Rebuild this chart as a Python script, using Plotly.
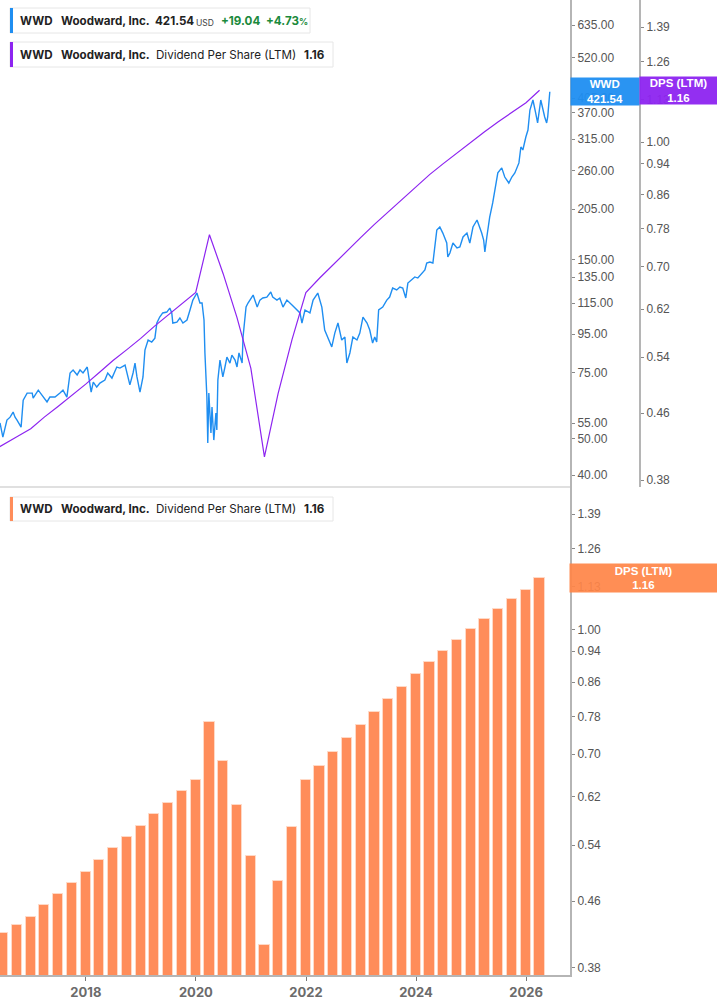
import math
import plotly.graph_objects as go

# ---------------- data ----------------
price_dates = [
    "2016-06-10", "2016-06-29", "2016-07-26", "2016-08-16", "2016-09-05", "2016-09-18", "2016-10-01", "2016-10-28",
    "2016-11-11", "2016-12-07", "2017-01-10", "2017-01-16", "2017-02-19", "2017-03-15", "2017-04-18", "2017-05-07",
    "2017-06-10", "2017-07-13", "2017-08-02", "2017-08-28", "2017-09-18", "2017-10-08", "2017-11-04", "2017-11-23",
    "2017-12-13", "2018-01-10", "2018-01-22", "2018-02-05", "2018-02-19", "2018-03-14", "2018-04-04", "2018-05-07",
    "2018-05-26", "2018-06-23", "2018-07-25", "2018-08-15", "2018-09-18", "2018-10-07", "2018-10-20", "2018-11-10",
    "2018-11-23", "2018-12-06", "2018-12-26", "2019-01-15", "2019-01-28", "2019-02-18", "2019-03-14", "2019-04-04",
    "2019-04-17", "2019-05-06", "2019-05-26", "2019-06-22", "2019-07-12", "2019-07-25", "2019-08-01", "2019-08-28",
    "2019-09-17", "2019-10-07", "2019-11-03", "2019-11-23", "2019-12-12", "2020-01-08", "2020-01-28", "2020-02-11",
    "2020-02-24", "2020-03-01", "2020-03-14", "2020-03-20", "2020-03-27", "2020-04-10", "2020-04-17", "2020-04-29",
    "2020-05-13", "2020-05-19", "2020-05-26", "2020-06-09", "2020-06-28", "2020-07-12", "2020-07-25", "2020-08-14",
    "2020-08-27", "2020-09-17", "2020-09-30", "2020-10-13", "2020-11-03", "2020-11-09", "2020-11-29", "2020-12-12",
    "2021-01-15", "2021-02-11", "2021-03-01", "2021-03-20", "2021-04-16", "2021-05-12", "2021-05-25", "2021-06-22",
    "2021-07-11", "2021-08-01", "2021-08-27", "2021-09-30", "2021-11-02", "2021-11-22", "2021-12-05", "2021-12-25",
    "2022-01-27", "2022-02-17", "2022-03-20", "2022-04-16", "2022-05-05", "2022-05-25", "2022-06-21", "2022-07-11",
    "2022-08-01", "2022-08-26", "2022-09-16", "2022-09-29", "2022-10-19", "2022-11-08", "2022-12-05", "2022-12-24",
    "2023-01-14", "2023-02-10", "2023-02-28", "2023-03-19", "2023-04-02", "2023-04-15", "2023-04-28", "2023-05-25",
    "2023-06-21", "2023-07-10", "2023-07-30", "2023-08-26", "2023-09-16", "2023-10-05", "2023-10-25", "2023-11-08",
    "2023-12-04", "2023-12-24", "2024-01-13", "2024-02-10", "2024-02-29", "2024-03-12", "2024-04-02", "2024-04-22",
    "2024-05-05", "2024-05-18", "2024-06-07", "2024-06-27", "2024-07-23", "2024-07-30", "2024-08-13", "2024-09-02",
    "2024-09-29", "2024-10-18", "2024-11-08", "2024-12-04", "2024-12-23", "2025-01-13", "2025-02-09", "2025-02-28",
    "2025-03-12", "2025-03-25", "2025-04-02", "2025-04-15", "2025-05-04", "2025-05-24", "2025-06-07", "2025-06-27",
    "2025-07-23", "2025-08-12", "2025-09-08", "2025-09-28", "2025-10-18", "2025-11-01", "2025-11-14", "2025-11-27",
    "2025-12-10", "2025-12-30", "2026-01-13", "2026-01-26", "2026-02-09", "2026-02-15", "2026-03-05", "2026-03-18",
    "2026-04-08", "2026-04-21", "2026-05-04", "2026-05-17", "2026-05-24", "2026-06-07",
]
price_values = [
    55.1, 50.5, 56.1, 57.1, 58.9, 57.1, 56.1, 53.7,
    63.4, 66.2, 66.2, 64.2, 67.4, 65.4, 62.7, 64.6,
    64.6, 66.2, 67.4, 64.6, 74.9, 76.3, 74.0, 76.3,
    74.9, 77.7, 72.6, 66.6, 70.8, 68.7, 70.4, 71.7,
    74.9, 72.6, 77.7, 77.2, 78.6, 73.1, 69.6, 74.9,
    79.6, 73.1, 66.6, 73.1, 86.2, 91.7, 90.6, 92.8,
    101.8, 105.6, 108.3, 108.9, 111.6, 108.3, 101.8, 102.4,
    105.0, 101.8, 103.7, 110.3, 117.2, 122.4, 115.1, 115.1,
    103.7, 84.7, 64.6, 48.7, 66.2, 51.8, 60.8, 49.6,
    58.6, 52.8, 71.7, 81.1, 73.1, 77.7, 82.6, 79.6,
    83.6, 81.1, 77.7, 84.7, 79.6, 93.4, 112.3, 115.1,
    120.9, 112.3, 117.2, 118.7, 119.4, 123.2, 119.4, 117.2,
    118.7, 112.3, 117.2, 113.7, 110.3, 108.3, 101.8, 110.3,
    108.3, 117.2, 122.4, 112.3, 97.5, 93.4, 87.9, 95.7,
    101.8, 91.7, 93.4, 79.6, 84.7, 93.4, 91.7, 95.7,
    105.6, 101.8, 97.5, 90.0, 93.4, 90.6, 110.3, 112.3,
    117.2, 119.4, 126.2, 124.7, 127.0, 126.2, 118.7, 130.1,
    132.6, 135.1, 134.2, 138.4, 141.0, 147.2, 148.1, 147.2,
    162.4, 180.2, 183.6, 176.9, 166.4, 152.7, 156.5, 166.4,
    161.4, 162.4, 172.7, 176.9, 166.4, 183.6, 191.7, 183.6,
    176.9, 169.5, 157.5, 172.7, 195.2, 212.8, 230.4, 256.0,
    264.0, 249.6, 240.6, 249.6, 256.0, 265.5, 272.2, 300.2,
    294.7, 319.2, 333.2, 376.7, 393.3, 400.6, 369.9, 347.9,
    400.6, 376.7, 360.9, 347.9, 360.9, 421.54,
]

dps_dates = [
    "2016-03-31", "2016-06-30", "2016-09-30", "2016-12-31",
    "2017-03-31", "2017-06-30", "2017-09-30", "2017-12-31",
    "2018-03-31", "2018-06-30", "2018-09-30", "2018-12-31",
    "2019-03-31", "2019-06-30", "2019-09-30", "2019-12-31",
    "2020-03-31", "2020-06-30", "2020-09-30", "2020-12-31",
    "2021-03-31", "2021-06-30", "2021-09-30", "2021-12-31",
    "2022-03-31", "2022-06-30", "2022-09-30", "2022-12-31",
    "2023-03-31", "2023-06-30", "2023-09-30", "2023-12-31",
    "2024-03-31", "2024-06-30", "2024-09-30", "2024-12-31",
    "2025-03-31", "2025-06-30", "2025-09-30", "2025-12-31",
    "2026-03-31",
]
dps_values = [
    0.411, 0.420, 0.430, 0.440,
    0.455, 0.469, 0.484, 0.500,
    0.517, 0.535, 0.552, 0.570,
    0.590, 0.609, 0.630, 0.650,
    0.767, 0.686, 0.605, 0.523,
    0.406, 0.487, 0.568, 0.650,
    0.677, 0.704, 0.733, 0.761,
    0.790, 0.819, 0.848, 0.880,
    0.911, 0.940, 0.970, 1.000,
    1.030, 1.060, 1.090, 1.119,
    1.160,
]

ticker = "WWD"
company = "Woodward, Inc."
metric = "Dividend Per Share (LTM)"
metric_short = "DPS (LTM)"
last_price = 421.54
price_change = 19.04
price_change_pct = 4.73
last_dps = 1.16

price_ticks = [40, 50, 55, 75, 95, 115, 135, 150, 205, 260, 315, 370, 405, 520, 635]
dps_ticks = [0.38, 0.46, 0.54, 0.62, 0.70, 0.78, 0.86, 0.94, 1.00, 1.13, 1.26, 1.39]
year_ticks = ["2018-01-01", "2020-01-01", "2022-01-01", "2024-01-01", "2026-01-01"]

# ---------------- styling ----------------
W, H = 717, 1005
BLUE = "#1f8ef1"
PURPLE = "#8d24f0"
ORANGE = "#ff8d5a"
AXIS_GREY = "#b5b5b5"
TICK_FONT = dict(family="Liberation Sans, Arial, sans-serif", size=12, color="#555555")
LEG_FONT = "Inter, Roboto, sans-serif"


def px(x):
    return x / W


def py(y):
    return 1 - y / H


fig = go.Figure()

fig.add_trace(go.Scatter(
    x=price_dates, y=price_values, mode="lines",
    line=dict(color=BLUE, width=1.4), xaxis="x", yaxis="y", name="WWD",
))
fig.add_trace(go.Scatter(
    x=dps_dates, y=dps_values, mode="lines",
    line=dict(color=PURPLE, width=1.2), xaxis="x", yaxis="y2", name="DPS",
))
fig.add_trace(go.Bar(
    x=dps_dates, y=dps_values, xaxis="x2", yaxis="y3",
    marker=dict(color=ORANGE, line=dict(color="#ffd9c6", width=1)),
    width=68 * 86400000, name="DPS bars",
))

x_range = ["2016-06-10", "2026-10-19"]
xdom = [0, px(570)]

yaxis_common = dict(
    type="log", side="right", showgrid=False, zeroline=False,
    showline=True, linecolor=AXIS_GREY, linewidth=2,
    ticks="outside", ticklen=3, tickwidth=1, tickcolor="#888888",
    tickfont=TICK_FONT, tickformat=".2f",
)

fig.update_layout(
    width=W, height=H,
    margin=dict(l=0, r=0, t=0, b=0),
    paper_bgcolor="white", plot_bgcolor="white",
    showlegend=False,
    bargap=0,
    xaxis=dict(domain=xdom, anchor="y", range=x_range, type="date",
               showticklabels=False, showgrid=False, zeroline=False, showline=False, ticks=""),
    xaxis2=dict(domain=xdom, anchor="y3", range=x_range, type="date", matches="x",
                showgrid=False, zeroline=False, showline=True, linecolor=AXIS_GREY, linewidth=2,
                tickvals=year_ticks, tickformat="%Y", ticks="outside", ticklen=4, tickcolor="#777777",
                tickfont=dict(family=LEG_FONT, size=13, color="#6b6b6b", weight="bold")),
    yaxis=dict(domain=[py(487), 1], anchor="x", range=[1.5703, 2.8695],
               tickvals=price_ticks, **yaxis_common),
    yaxis2=dict(domain=[py(487), 1], overlaying="y", anchor="free", position=px(640),
                range=[-0.4289, 0.1766], tickvals=dps_ticks, **yaxis_common),
    yaxis3=dict(domain=[py(975), py(487)], anchor="x2", range=[-0.4290, 0.1769],
                tickvals=dps_ticks, **yaxis_common),
)

shapes = []
# separator between panels
shapes.append(dict(type="line", xref="paper", yref="paper", x0=0, x1=px(570),
                   y0=py(487), y1=py(487), line=dict(color="#d6d6d6", width=1.5)))


def legend_box(x0, x1, y0, y1, color):
    shapes.append(dict(type="rect", xref="paper", yref="paper", x0=px(x0), x1=px(x1),
                       y0=py(y1), y1=py(y0), fillcolor="white",
                       line=dict(color="#e6e6e6", width=1), layer="above"))
    shapes.append(dict(type="rect", xref="paper", yref="paper", x0=px(x0), x1=px(x0 + 3),
                       y0=py(y1), y1=py(y0), fillcolor=color, line=dict(width=0), layer="above"))


legend_box(10, 310, 8, 33, BLUE)
legend_box(10, 333, 42, 67, PURPLE)
legend_box(10, 333, 497, 521, ORANGE)

annotations = []


def label(x, y, text, size=None, color="#222222", bold=False):
    if size is None:
        size = 11.6
    annotations.append(dict(
        xref="paper", yref="paper", x=px(x), y=py(y), xanchor="left", yanchor="middle",
        showarrow=False, text=(f"<b>{text}</b>" if bold else text), borderpad=0,
        font=dict(family=LEG_FONT, size=size, color=color),
    ))


GREEN = "#1a8a3c"
# box 1
label(19, 21, ticker, bold=True)
label(60, 21, company, bold=True)
label(154, 21, f"{last_price:.2f}", bold=True)
label(195, 23, "USD", size=8.5, color="#444444")
label(220, 21, f"+{price_change:.2f}", color=GREEN, bold=True)
label(265, 21, f"+{price_change_pct:.2f}<span style='font-size:9px'>%</span>", color=GREEN, bold=True)
# box 2
label(19, 55, ticker, bold=True)
label(60, 55, company, bold=True)
label(155, 55, metric)
label(303, 55, f"{last_dps:.2f}", bold=True)
# box 3
label(19, 509, ticker, bold=True)
label(60, 509, company, bold=True)
label(155, 509, metric)
label(303, 509, f"{last_dps:.2f}", bold=True)

# right-edge value labels
LAB_FONT = dict(family="Liberation Sans, Arial, sans-serif", size=11.5, color="white")
annotations.append(dict(
    xref="paper", yref="y", x=px(605), y=math.log10(last_price), xanchor="center", yanchor="middle",
    showarrow=False, text=f"<b>{ticker}<br>{last_price:.2f}</b>", font=LAB_FONT,
    bgcolor="rgba(31,142,241,0.95)", width=66, height=25, borderpad=1,
))
annotations.append(dict(
    xref="paper", yref="y2", x=px(678.5), y=math.log10(last_dps), xanchor="center", yanchor="middle",
    showarrow=False, text=f"<b>{metric_short}<br>{last_dps:.2f}</b>", font=LAB_FONT,
    bgcolor="rgba(141,36,240,0.95)", width=75, height=25, borderpad=1,
))
annotations.append(dict(
    xref="paper", yref="y3", x=px(643.5), y=math.log10(last_dps), xanchor="center", yanchor="middle",
    showarrow=False, text=f"<b>{metric_short}<br>{last_dps:.2f}</b>", font=LAB_FONT,
    bgcolor="rgba(255,133,72,0.93)", width=145, height=26, borderpad=1,
))

fig.update_layout(shapes=shapes, annotations=annotations)

fig.write_html("out.html")
